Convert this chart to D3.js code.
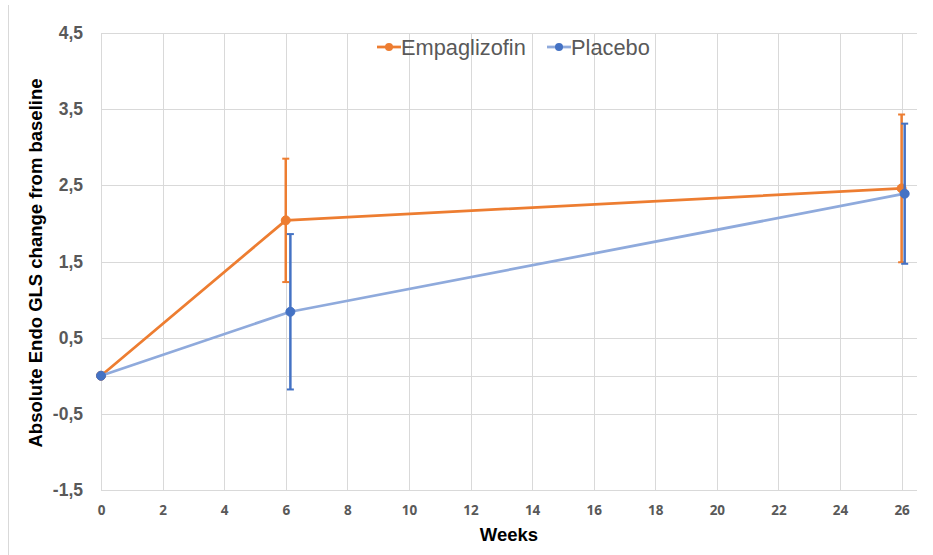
<!DOCTYPE html>
<html>
<head>
<meta charset="utf-8">
<script src="https://cdn.jsdelivr.net/npm/d3@7"></script>
<style>
  html, body { margin: 0; padding: 0; background: #fff; }
  svg { display: block; }
</style>
</head>
<body>
<svg id="chart" width="933" height="555"></svg>
<script>
// Absolute Endo GLS change from baseline, mean with error bars
const empaWeeks = [0, 6, 26];
const empaValues = [0, 2.04, 2.46];
const empaErrors = [0, 0.81, 0.97];

const placeboWeeks = [0, 6.15, 26.1];
const placeboValues = [0, 0.84, 2.39];
const placeboErrors = [0, 1.02, 0.92];

const xTicks = [0, 2, 4, 6, 8, 10, 12, 14, 16, 18, 20, 22, 24, 26];
const yTicks = [-1.5, -0.5, 0.5, 1.5, 2.5, 3.5, 4.5];
const seriesNames = ["Empaglizofin", "Placebo"];

const svg = d3.select("#chart");
const W = 933, H = 555;
const plot = { left: 101, right: 917, top: 33, bottom: 490 };

const x = d3.scaleLinear().domain([0, 26.5]).range([plot.left, plot.right]);
const y = d3.scaleLinear().domain([-1.5, 4.5]).range([plot.bottom, plot.top]);

const grid = "#d9d9d9";
const tickColor = "#595959";

// outer chart frame (left edge)
svg.append("line")
  .attr("x1", 8.5).attr("x2", 8.5).attr("y1", 5).attr("y2", H)
  .attr("stroke", grid).attr("stroke-width", 1);

// vertical gridlines
svg.append("g").selectAll("line").data(xTicks).join("line")
  .attr("x1", d => Math.round(x(d)) + 0.5).attr("x2", d => Math.round(x(d)) + 0.5)
  .attr("y1", plot.top).attr("y2", plot.bottom)
  .attr("stroke", grid).attr("stroke-width", 1);

// horizontal gridlines (plus the zero line)
svg.append("g").selectAll("line").data(yTicks.concat([0])).join("line")
  .attr("x1", plot.left).attr("x2", plot.right)
  .attr("y1", d => Math.round(y(d)) + 0.5).attr("y2", d => Math.round(y(d)) + 0.5)
  .attr("stroke", grid).attr("stroke-width", 1);

// y axis labels
const yAxis = d3.axisLeft(y).tickValues(yTicks).tickSize(0).tickPadding(18)
  .tickFormat(d => d3.format(".1f")(d).replace(".", ",").replace("−", "-"));
const gy = svg.append("g").attr("transform", `translate(${plot.left},0)`).call(yAxis);
gy.select(".domain").remove();
gy.selectAll("text")
  .attr("font-family", "Liberation Sans, Arial, sans-serif")
  .attr("font-weight", "bold").attr("font-size", 17.5).attr("fill", tickColor);

// x axis labels
const xAxis = d3.axisBottom(x).tickValues(xTicks).tickSize(0).tickPadding(15);
const gx = svg.append("g").attr("transform", `translate(0,${plot.bottom})`).call(xAxis);
gx.select(".domain").remove();
gx.selectAll("text")
  .attr("font-family", "Open Sans, Liberation Sans, sans-serif")
  .attr("font-weight", "bold").attr("font-size", 13.5).attr("fill", tickColor);

// axis titles
svg.append("text")
  .attr("x", 509).attr("y", 541).attr("text-anchor", "middle")
  .attr("font-family", "Liberation Sans, Arial, sans-serif")
  .attr("font-weight", "bold").attr("font-size", 18.5).attr("fill", "#000")
  .text("Weeks");

svg.append("text")
  .attr("transform", "translate(42,263) rotate(-90)")
  .attr("text-anchor", "middle")
  .attr("font-family", "Liberation Sans, Arial, sans-serif")
  .attr("font-weight", "bold").attr("font-size", 18.5).attr("fill", "#000")
  .text("Absolute Endo GLS change from baseline");

const series = [
  { name: seriesNames[0], weeks: empaWeeks, values: empaValues, errors: empaErrors,
    line: "#ED7D31", mark: "#ED7D31", err: "#ED7D31" },
  { name: seriesNames[1], weeks: placeboWeeks, values: placeboValues, errors: placeboErrors,
    line: "#8FAADC", mark: "#4472C4", err: "#4472C4" }
];

const lineGen = d3.line().x(d => x(d[0])).y(d => y(d[1]));

series.forEach(s => {
  const pts = s.weeks.map((w, i) => [w, s.values[i], s.errors[i]]);
  const g = svg.append("g");
  g.append("path").datum(pts)
    .attr("d", lineGen).attr("fill", "none")
    .attr("stroke", s.line).attr("stroke-width", 2.75).attr("stroke-linejoin", "round");

  const eb = g.selectAll("g.err").data(pts.filter(p => p[2] > 0)).join("g");
  eb.append("line")
    .attr("x1", d => x(d[0])).attr("x2", d => x(d[0]))
    .attr("y1", d => y(d[1] + d[2])).attr("y2", d => y(d[1] - d[2]))
    .attr("stroke", s.err).attr("stroke-width", 2.5);
  [1, -1].forEach(sign => {
    eb.append("line")
      .attr("x1", d => x(d[0]) - 3.5).attr("x2", d => x(d[0]) + 3.5)
      .attr("y1", d => y(d[1] + sign * d[2])).attr("y2", d => y(d[1] + sign * d[2]))
      .attr("stroke", s.err).attr("stroke-width", 2);
  });

  g.selectAll("circle").data(pts).join("circle")
    .attr("cx", d => x(d[0])).attr("cy", d => y(d[1])).attr("r", 4.5)
    .attr("fill", s.mark).attr("stroke", s.mark).attr("stroke-width", 1);
});

// legend
const legendItems = [
  { x: 377, s: series[0] },
  { x: 547, s: series[1] }
];
legendItems.forEach(it => {
  const g = svg.append("g").attr("transform", `translate(${it.x},47)`);
  g.append("line").attr("x1", 0).attr("x2", 24).attr("y1", 0).attr("y2", 0)
    .attr("stroke", it.s.line).attr("stroke-width", 2.75);
  g.append("circle").attr("cx", 12).attr("cy", 0).attr("r", 4)
    .attr("fill", it.s.mark);
  g.append("text").attr("x", 24).attr("y", 7.5)
    .attr("font-family", "Liberation Sans, Arial, sans-serif")
    .attr("font-size", 21.8).attr("fill", "#595959")
    .text(it.s.name);
});
</script>
</body>
</html>
